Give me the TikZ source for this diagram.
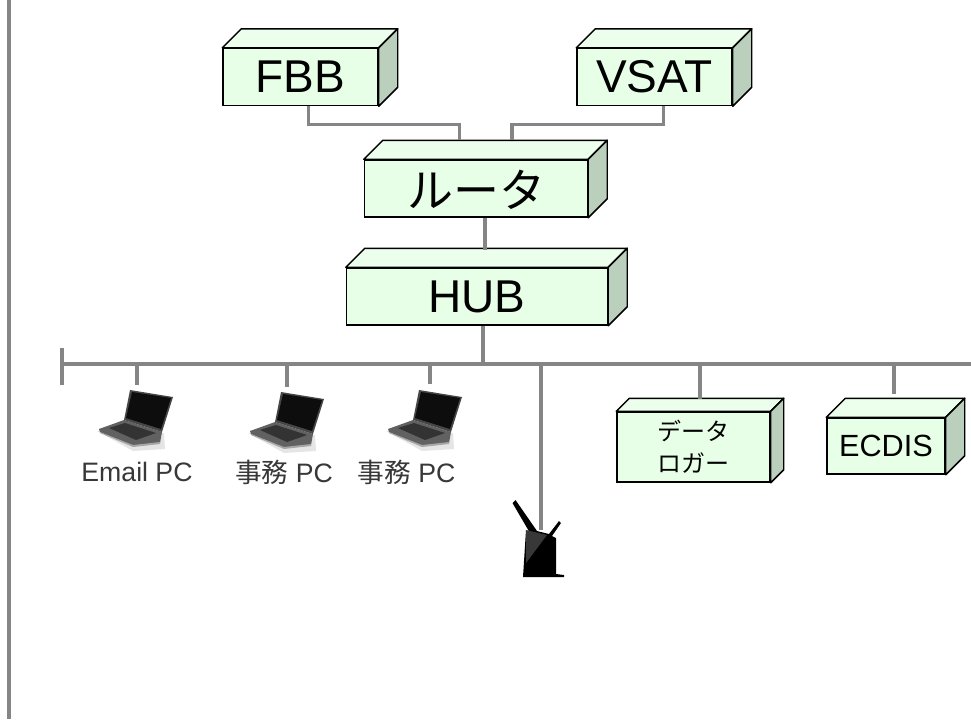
\documentclass[tikz,border=0pt]{standalone}
\usepackage{fontspec}
\setmainfont{Liberation Sans}
\newfontfamily\jpfont{Noto Sans CJK JP}
\definecolor{boxfront}{HTML}{E6FFE6}
\definecolor{boxtop}{HTML}{ECFFEC}
\definecolor{boxside}{HTML}{BBD0BC}
\definecolor{wiregray}{HTML}{858585}
\tikzset{
	box node/.style n args={3}{draw=black,fill=boxfront,line width=1.1pt,inner sep=0pt,align=center,
		minimum width=#1*.75pt,minimum height=#2*.75pt,
		append after command={\pgfextra{
			\draw[line width=1.1pt,fill=boxtop,line join=round] (\tikzlastnode.north west) -- ++(#3,-#3) -- ([shift={(#3,-#3)}]\tikzlastnode.north east) -- (\tikzlastnode.north east) -- cycle;
			\draw[line width=1.1pt,fill=boxside,line join=round] (\tikzlastnode.north east) -- ++(#3,-#3) -- ([shift={(#3,-#3)}]\tikzlastnode.south east) -- (\tikzlastnode.south east) -- cycle;
		}}},
	big text/.style={font=\fontsize{34.5}{36}\selectfont},
	mid text/.style={font=\fontsize{23}{26}\selectfont},
	small text/.style={font=\fontsize{18}{24}\selectfont},
	pc text/.style={font=\fontsize{20}{22}\selectfont,text=black!78},
	wire/.style={draw=wiregray,line width=2.4pt},
	bus wire/.style={draw=wiregray,line width=2.9pt},
	laptop/.pic={
		\fill[black!10] (-40,46) -- (-4,66) -- (28,64) -- (27,48) -- cycle;
		\fill[black!62] (-38,44) -- (-13,35) -- (25,47) -- (23,58) -- (-4,61) -- (-37,47) -- cycle;
		\fill[black!80] (-28,43) -- (-12,38) -- (19,48) -- (-1,55) -- cycle;
		\fill[black!35] (-37,47) -- (-4,60) -- (23,57) -- (23,59) -- (-4,62) -- (-37,48) -- cycle;
		\fill[black!72] (-7,5) -- (36,12) -- (25,47) -- (-13,35) -- cycle;
		\fill[black!95] (-5,7) -- (34,13) -- (24,44) -- (-11,33) -- cycle;
	},
}
\begin{document}
\begin{tikzpicture}[x=.75pt,y=-.75pt]
	\useasboundingbox (0,0) rectangle (971,719);

	\node[box node={155}{57}{19},big text] (1) at (300.5,77) {FBB};
	\node[box node={155}{57}{19},big text] (2) at (654.5,77) {VSAT};
	\node[box node={223}{57}{19},big text,text height=33pt,text depth=4pt] (3) at (476,188.5) {{\jpfont ルータ}};
	\node[box node={261}{57}{19},big text] (4) at (477,296.5) {HUB};
	\node[box node={153}{70}{13},small text] (5) at (693.5,447) {{\jpfont データ}\\{\jpfont ロガー}};
	\node[box node={118}{56}{19},mid text] (6) at (886,446) {ECDIS};

	\pic at (137,385) {laptop};
	\pic at (288,387) {laptop};
	\pic at (426,385) {laptop};

	\node[pc text] (7) at (137,472) {Email PC};
	\node[pc text] (8) at (284,472) {{\jpfont 事務} PC};
	\node[pc text] (9) at (406.5,472) {{\jpfont 事務} PC};

	\fill[black] (515.5,500) -- (512.5,503) -- (530,533) -- (526,530) -- (523,577) -- (564,577) -- (564,575) -- (556,574) -- (556,538) -- (552,536) -- (561,523) -- (559,521) -- (549,534) -- (537,531) -- cycle;
	\fill[black!78] (526,530) -- (547,535) -- (526,563) -- cycle;
	\coordinate (router) at (541,530);

	\coordinate (frame top) at (9,0);
	\coordinate (frame bottom) at (9,719);
	\coordinate (bus left) at (60,364);
	\coordinate (bus right) at (971,364);
	\coordinate (tick top) at (62,348);
	\coordinate (tick bottom) at (62,385);
	\coordinate (pc1) at (137,385);
	\coordinate (pc2) at (287,387);
	\coordinate (pc3) at (430,384);
	\coordinate (logger top) at (700,399);
	\coordinate (ecdis top) at (894,394);

	\draw[wire] ([xshift=6pt]1.south) -- ++(0,18) -| ([shift={(-16.5,-19)}]3.north);
	\draw[wire] ([xshift=6.5pt]2.south) -- ++(0,18) -| ([shift={(36,-19)}]3.north);
	\draw[wire] (3.south -| 4.north) ++(8,0) -- ++(0,32);
	\path[bus wire]
	(4.south) ++(6,0) edge (bus left -| 483,0)

	(frame top)
	edge (frame bottom)

	(bus left)
	edge (bus right)

	(tick top)
	edge (tick bottom)

	(bus left -| pc1)
	edge (pc1)

	(bus left -| pc2)
	edge (pc2)

	(bus left -| pc3)
	edge (pc3)

	(bus left -| router)
	edge (router)

	(bus left -| logger top)
	edge (logger top)

	(bus left -| ecdis top)
	edge (ecdis top)
	;
\end{tikzpicture}
\end{document}
